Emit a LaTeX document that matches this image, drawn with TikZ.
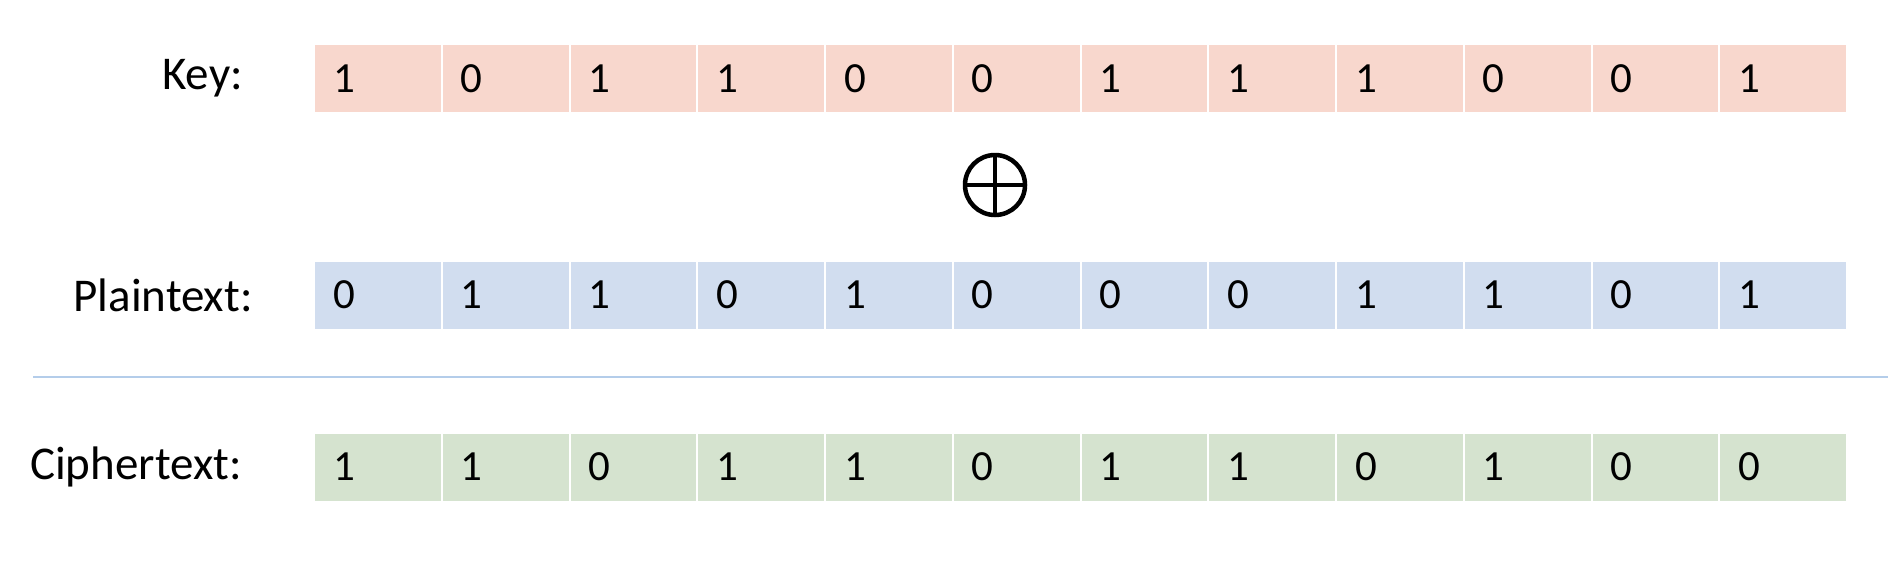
\documentclass[tikz,border=0pt]{standalone}
\usepackage{fontspec}
\setmainfont{Carlito}
\definecolor{keyfill}{HTML}{F8D7CD}
\definecolor{plainfill}{HTML}{D1DDEF}
\definecolor{cipherfill}{HTML}{D5E3CF}
\definecolor{rulecol}{HTML}{B4CDEA}
\begin{document}
\begin{tikzpicture}[x=1pt,y=-1pt,
   every node/.style={font=\fontsize{43}{50}\selectfont},
   bitcell/.style={anchor=west,minimum height=67pt,inner xsep=18pt,
      text width=89.75pt,align=left,inner ysep=0pt},
   rowlabel/.style={anchor=east,inner sep=0pt,font=\fontsize{47}{54}\selectfont}]
\useasboundingbox (0,0) rectangle (1888,571);
% rows of bits
\foreach \bits/\fillcol/\y/\row in {{1,0,1,1,0,0,1,1,1,0,0,1}/keyfill/78.5/key,
   {0,1,1,0,1,0,0,0,1,1,0,1}/plainfill/295/plain,
   {1,1,0,1,1,0,1,1,0,1,0,0}/cipherfill/467/cipher}{
  \foreach \b [count=\i from 0] in \bits {
    \node[bitcell,fill=\fillcol] (\row\i) at (315+127.75*\i,\y) {\b};
  }
}
\node[rowlabel] (keylab) at (243,78.5) {Key:};
\node[rowlabel] (plainlab) at (253,295) {Plaintext:};
\node[rowlabel] (cipherlab) at (242,467) {Ciphertext:};
% xor sign
\node[circle,draw,line width=4.5pt,minimum size=60pt,inner sep=0pt] (xor) at (995,185) {};
\draw[line width=4.5pt] (xor.north) -- (xor.south) (xor.west) -- (xor.east);
% separator
\coordinate (sepl) at (33,377);
\coordinate (sepr) at (1888,377);
\draw[rulecol,line width=1.5pt] (sepl) -- (sepr);
\end{tikzpicture}
\end{document}
